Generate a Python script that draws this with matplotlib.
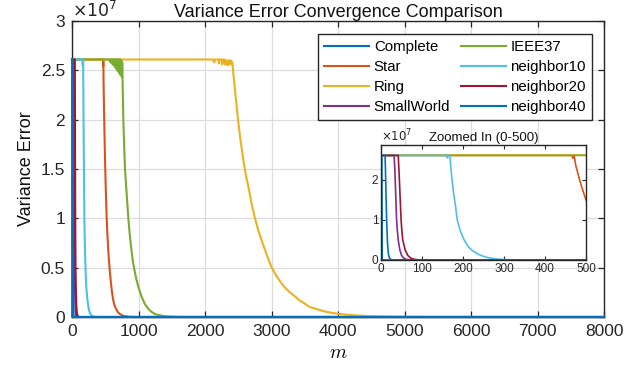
import matplotlib
matplotlib.use("Agg")
import matplotlib.pyplot as plt
from matplotlib.ticker import FuncFormatter

plt.rcParams['font.family'] = ['Liberation Sans', 'DejaVu Sans']

# ---------------- data (values in units of 1e7) ----------------
labels = ["Complete", "Star", "Ring", "SmallWorld", "IEEE37",
          "neighbor10", "neighbor20", "neighbor40"]
colors = ["#0072BD", "#D95319", "#EDB120", "#7E2F8E", "#77AC30",
          "#4DBEEE", "#A2142F", "#0072BD"]

complete_m = [0, 2, 3, 8000]
complete_v = [2.61, 2.61, 0.0, 0.0]

star_m = [0, 466, 468, 470, 472, 475, 480, 485, 490, 495, 500, 510, 521, 532,
          545, 558, 571, 585, 600, 615, 630, 650, 672, 695, 720, 750, 780,
          850, 950, 8000]
star_v = [2.61, 2.61, 2.54, 2.61, 2.55, 2.36, 2.17, 1.98, 1.81, 1.65, 1.50,
          1.25, 1.01, 0.84, 0.68, 0.55, 0.45, 0.35, 0.26, 0.19, 0.14, 0.10,
          0.07, 0.045, 0.03, 0.018, 0.01, 0.003, 0.0, 0.0]

ring_m = [0, 2120, 2140, 2150, 2200, 2210, 2220, 2250, 2260, 2270, 2290, 2300,
          2310, 2330, 2340, 2350, 2370, 2380, 2390, 2410, 2430, 2450, 2475,
          2500, 2530, 2560, 2586, 2620, 2650, 2700, 2752, 2800, 2870, 2940,
          3003, 3070, 3140, 3200, 3278, 3350, 3420, 3500, 3579, 3680, 3800,
          3900, 3980, 4100, 4250, 4400, 4500, 4650, 4800, 5000, 5200, 5500,
          8000]
ring_v = [2.61, 2.61, 2.58, 2.61, 2.61, 2.57, 2.61, 2.61, 2.56, 2.61, 2.61,
          2.56, 2.60, 2.60, 2.55, 2.60, 2.60, 2.56, 2.60, 2.58, 2.44, 2.31,
          2.14, 1.98, 1.81, 1.67, 1.55, 1.42, 1.33, 1.15, 1.00, 0.88, 0.74,
          0.61, 0.50, 0.42, 0.35, 0.30, 0.25, 0.21, 0.17, 0.135, 0.10, 0.08,
          0.056, 0.043, 0.035, 0.025, 0.017, 0.011, 0.009, 0.006, 0.004,
          0.002, 0.001, 0.0, 0.0]

small_m = [0, 32, 34, 36, 38, 40, 42, 46, 50, 55, 60, 68, 80, 8000]
small_v = [2.61, 2.61, 2.2, 1.6, 1.0, 0.72, 0.5, 0.25, 0.12, 0.05, 0.02,
           0.005, 0.0, 0.0]

ieee_m = [0, 560, 570, 575, 585, 590, 600, 605, 615, 620, 630, 635, 645, 650,
          660, 665, 675, 680, 690, 695, 705, 710, 720, 725, 735, 740, 750,
          755, 760, 766, 772, 785, 797, 810, 822, 835, 847, 868, 890, 910,
          932, 965, 1000, 1050, 1098, 1150, 1200, 1250, 1300, 1375, 1450,
          1600, 1700, 8000]
ieee_v = [2.61, 2.61, 2.59, 2.61, 2.58, 2.61, 2.57, 2.61, 2.56, 2.61, 2.55,
          2.61, 2.54, 2.61, 2.52, 2.61, 2.51, 2.61, 2.49, 2.61, 2.48, 2.61,
          2.46, 2.61, 2.45, 2.60, 2.43, 2.58, 2.43, 2.20, 2.00, 1.72, 1.50,
          1.37, 1.25, 1.12, 1.00, 0.84, 0.70, 0.59, 0.50, 0.39, 0.30, 0.20,
          0.13, 0.08, 0.05, 0.03, 0.02, 0.01, 0.005, 0.001, 0.0, 0.0]

n10_m = [0, 160, 162, 164, 168, 170, 172, 174, 176, 178, 181, 183.5, 186,
         190, 194, 198, 203, 208, 214, 220, 228, 236, 245, 255, 265, 275,
         285, 297, 310, 330, 350, 400, 8000]
n10_v = [2.61, 2.61, 2.55, 2.61, 2.61, 2.35, 2.12, 1.93, 1.75, 1.60, 1.40,
         1.20, 1.00, 0.85, 0.72, 0.61, 0.50, 0.41, 0.32, 0.26, 0.20, 0.15,
         0.11, 0.075, 0.05, 0.033, 0.022, 0.013, 0.008, 0.004, 0.002, 0.0,
         0.0]

n20_m = [0, 42, 44, 46.5, 49, 51, 53, 59, 65, 72, 80, 90, 110, 8000]
n20_v = [2.61, 2.61, 2.2, 1.6, 1.0, 0.72, 0.5, 0.25, 0.12, 0.05, 0.02,
         0.005, 0.0, 0.0]

n40_m = [0, 10, 11, 12.5, 14, 16, 18, 21, 25, 32, 8000]
n40_v = [2.61, 2.61, 2.2, 1.5, 0.9, 0.4, 0.15, 0.04, 0.01, 0.0, 0.0]

series_m = [complete_m, star_m, ring_m, small_m, ieee_m, n10_m, n20_m, n40_m]
series_v = [complete_v, star_v, ring_v, small_v, ieee_v, n10_v, n20_v, n40_v]

main_xticks = [0, 1000, 2000, 3000, 4000, 5000, 6000, 7000, 8000]
main_yticks = [0, 0.5, 1, 1.5, 2, 2.5, 3]
inset_xticks = [0, 100, 200, 300, 400, 500]
inset_yticks = [0, 1, 2]

# ---------------- figure ----------------
W, H = 641, 377
fig = plt.figure(figsize=(W / 100, H / 100), dpi=100)
fig.patch.set_facecolor('white')

edge = '#262626'
fmt = FuncFormatter(lambda v, p: '%g' % v)

ax = fig.add_axes([72 / W, (H - 317) / H, (604 - 72) / W, (317 - 21) / H])
for m, v, c, lab in zip(series_m, series_v, colors, labels):
    ax.plot(m, v, color=c, lw=1.5, label=lab, clip_on=False, zorder=3)
ax.set_xlim(0, 8000)
ax.set_ylim(0, 3)
ax.set_xticks(main_xticks)
ax.set_yticks(main_yticks)
ax.yaxis.set_major_formatter(fmt)
ax.grid(True, color='#dcdcdc', lw=0.9)
ax.set_axisbelow(True)
ax.tick_params(direction='in', length=4, width=0.9, colors=edge,
               labelsize=12.5, top=True, right=True, pad=5)
for s in ax.spines.values():
    s.set_color(edge)
    s.set_linewidth(1.0)
ax.set_title('Variance Error Convergence Comparison', fontsize=13, pad=3,
             color='#111111')
ax.set_ylabel('Variance Error', fontsize=13, labelpad=4, color='#111111')
ax.set_xlabel('$m$', fontsize=14, math_fontfamily='cm', labelpad=4)
ax.text(0.0, 1.005, r'$\times10^{7}$', transform=ax.transAxes, fontsize=12.5,
        ha='left', va='bottom', color=edge, math_fontfamily='dejavusans')

leg = ax.legend(ncol=2, loc='upper right', bbox_to_anchor=(0.977, 0.956),
                borderaxespad=0, fancybox=False, framealpha=1,
                edgecolor=edge, fontsize=10.8, handlelength=3.0,
                handletextpad=0.3, columnspacing=0.7, labelspacing=0.4,
                borderpad=0.4)
leg.get_frame().set_linewidth(1.0)
leg.set_zorder(5)

# ---------------- inset ----------------
ins = fig.add_axes([381 / W, (H - 260) / H, (586 - 381) / W, (260 - 145) / H])
for m, v, c in zip(series_m, series_v, colors):
    ins.plot(m, v, color=c, lw=1.2)
ins.set_xlim(0, 500)
ins.set_ylim(0, 2.87)
ins.set_xticks(inset_xticks)
ins.set_yticks(inset_yticks)
ins.yaxis.set_major_formatter(fmt)
ins.tick_params(direction='in', length=3, width=0.8, colors=edge,
                labelsize=8.5, top=True, right=True, pad=2)
for s in ins.spines.values():
    s.set_color(edge)
    s.set_linewidth(1.0)
ins.set_title('Zoomed In (0-500)', fontsize=9.5, pad=3, color='#111111')
ins.text(0.0, 1.01, r'$\times10^{7}$', transform=ins.transAxes, fontsize=8.5,
         ha='left', va='bottom', color=edge, math_fontfamily='dejavusans')
ins.set_zorder(6)

fig.savefig('out.png', dpi=100)
